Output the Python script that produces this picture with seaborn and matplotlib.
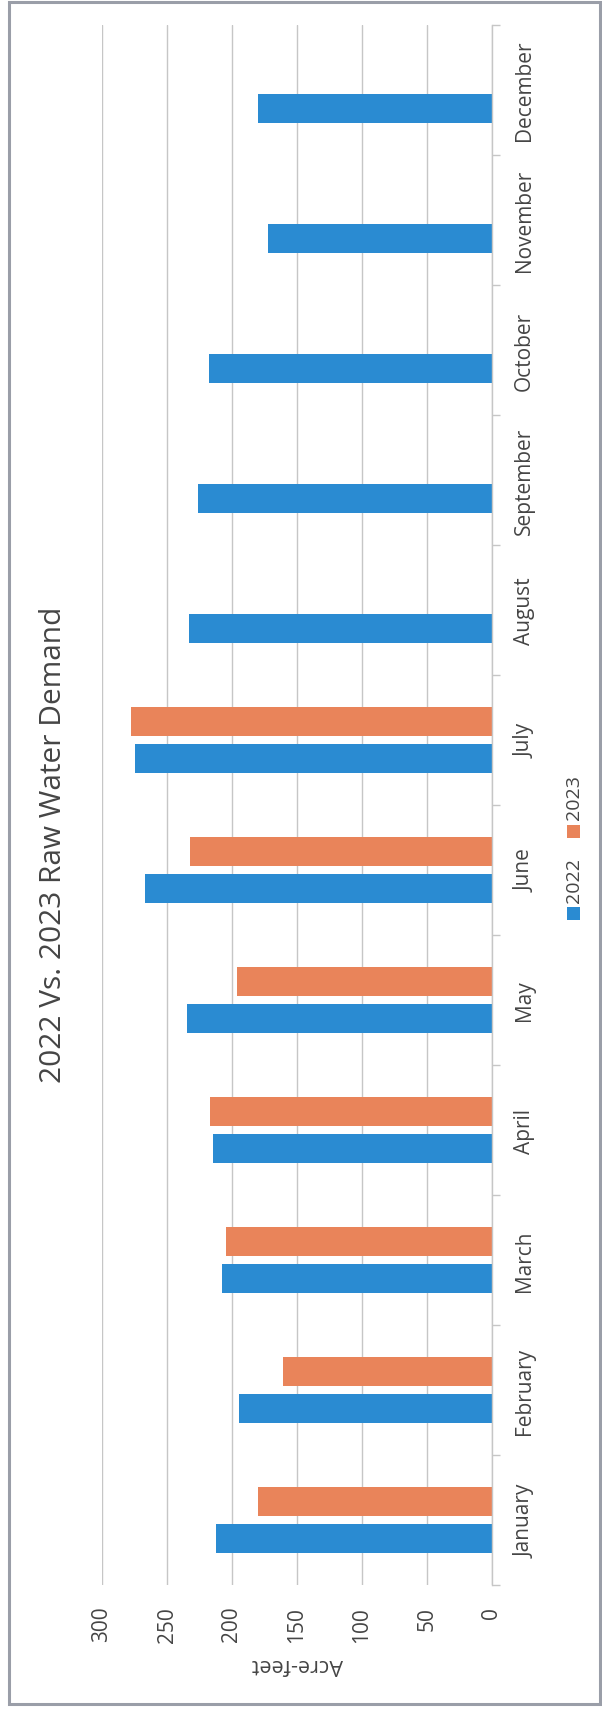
import numpy as np
import pandas as pd
import matplotlib
matplotlib.use("Agg")
import matplotlib.pyplot as plt
from matplotlib.patches import Rectangle
import seaborn as sns

# Monthly raw water demand, acre-feet
months = ["January", "February", "March", "April", "May", "June",
          "July", "August", "September", "October", "November", "December"]
demand_2022 = [212, 195, 208, 215, 235, 267, 275, 233, 226, 218, 172, 180]
demand_2023 = [180, 161, 205, 217, 196, 232, 278,
               np.nan, np.nan, np.nan, np.nan, np.nan]
years = ["2022", "2023"]
value_ticks = [0, 50, 100, 150, 200, 250, 300]

BLUE = "#2a8bd2"
ORANGE = "#e9845a"
TEXT = "#454545"
GRID = "#c6c6c6"

sns.set_style("white")
plt.rcParams["font.family"] = ["Open Sans", "DejaVu Sans"]

df = pd.DataFrame({
    "Month": months * 2,
    "Year": [years[0]] * 12 + [years[1]] * 12,
    "Acre-feet": demand_2022 + demand_2023,
}).dropna()

W, H = 602, 1715
fig = plt.figure(figsize=(W / 100, H / 100), dpi=100)
fig.patch.set_facecolor("white")

# plot area in pixel terms (left, right, top, bottom)
L, R, T, B = 102, 492, 26, 1586
ax = fig.add_axes([L / W, 1 - B / H, (R - L) / W, (B - T) / H])

sns.barplot(data=df, y="Month", x="Acre-feet", hue="Year", order=months,
            hue_order=years, palette={years[0]: BLUE, years[1]: ORANGE},
            orient="h", width=0.577, gap=0.227, errorbar=None,
            saturation=1, linewidth=0, legend=False, ax=ax)

# chart is laid out sideways: value axis runs right-to-left, months bottom-to-top
ax.set_xlim(300, 0)
ax.set_ylim(-0.5, 11.5)

ax.set_axisbelow(True)
ax.xaxis.grid(True, color=GRID, lw=1)
ax.yaxis.grid(False)
for side in ("top", "bottom", "left"):
    ax.spines[side].set_visible(False)
ax.spines["right"].set_color(GRID)
ax.spines["right"].set_linewidth(1)

# value ticks (bottom, rotated)
ax.set_xticks(value_ticks)
ax.set_xticklabels([str(v) for v in value_ticks], rotation=90)
ax.tick_params(axis="x", length=0, pad=15, labelsize=15, labelcolor=TEXT)
for lbl in ax.get_xticklabels():
    lbl.set_ha("center")
    lbl.set_va("top")

# month labels on the right, rotated
ax.yaxis.tick_right()
ax.set_yticks(range(len(months)))
ax.set_yticklabels(months, rotation=90)
ax.tick_params(axis="y", which="major", length=0, pad=23.5, labelsize=15,
               labelcolor=TEXT, right=True, left=False,
               labelright=True, labelleft=False)
for lbl in ax.get_yticklabels():
    lbl.set_ha("center")
    lbl.set_va("center")
ax.set_yticks(np.arange(-0.5, len(months), 1.0), minor=True)
ax.tick_params(axis="y", which="minor", length=6, width=1, color=GRID,
               direction="out", right=True, left=False)
ax.set_ylabel("")

ax.set_xlabel("Acre-feet", rotation=180, fontsize=15.5, color=TEXT)
ax.xaxis.set_label_coords(0.5, (B - 1665) / (B - T))
ax.xaxis.label.set_va("center")
ax.xaxis.label.set_ha("center")

# title along the left edge
fig.text(54 / W, 1 - 845 / H, "2022 Vs. 2023 Raw Water Demand",
         rotation=90, ha="center", va="center", fontsize=21.5, color=TEXT)

# legend, reading bottom-to-top along the right edge
def px_rect(x0, y0, x1, y1, color):
    fig.patches.append(Rectangle((x0 / W, 1 - y1 / H), (x1 - x0) / W,
                                 (y1 - y0) / H, transform=fig.transFigure,
                                 facecolor=color, edgecolor="none"))

px_rect(567, 908, 580, 921, BLUE)
fig.text(574 / W, 1 - 881 / H, years[0], rotation=90, ha="center",
         va="center", fontsize=14, color=TEXT)
px_rect(567, 826, 580, 839, ORANGE)
fig.text(574 / W, 1 - 798 / H, years[1], rotation=90, ha="center",
         va="center", fontsize=14, color=TEXT)

# outer frame
fig.patches.append(Rectangle((9 / W, 1 - 1705 / H), 591 / W, 1702 / H,
                             transform=fig.transFigure, facecolor="none",
                             edgecolor="#9a9ea8", lw=2.2))

fig.savefig("out.png", dpi=100, facecolor="white")
